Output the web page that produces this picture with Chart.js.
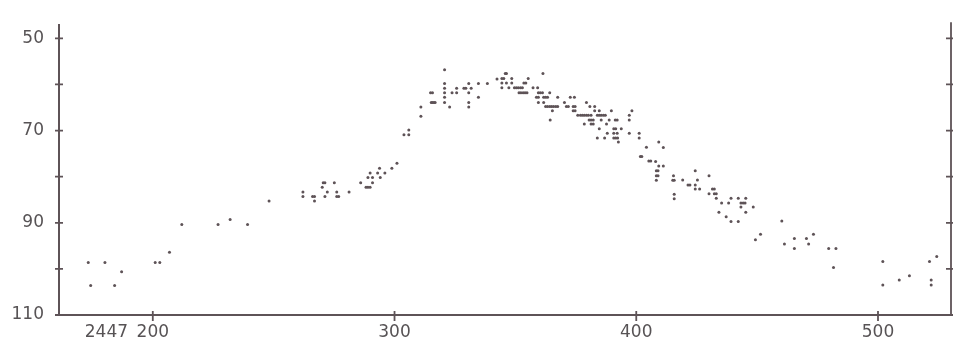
<!DOCTYPE html>
<html>
<head>
<meta charset="utf-8">
<script src="https://cdn.jsdelivr.net/npm/chart.js@4.4.1/dist/chart.umd.min.js"></script>
<style>
  html, body { margin: 0; padding: 0; background: #fff; }
</style>
</head>
<body>
<canvas id="chart" width="955" height="346"></canvas>
<script>

// light curve: julian date (minus 2447000) and magnitude (x10)
const jd = [
  173.3, 174.3, 180.2, 184.2, 187.1, 201.0, 202.9, 206.9, 212.0, 227.0,
  232.0, 239.2, 248.1, 262.1, 262.1, 266.1, 266.9, 266.9, 270.1, 270.5,
  271.2, 271.2, 272.2, 275.1, 276.1, 276.1, 276.9, 281.2,
  286.0, 288.2, 289.0, 289.9, 289.0, 289.9, 290.9, 290.9, 293.0, 293.8,
  294.1, 296.0, 298.9, 301.0, 303.9, 305.9, 305.9,
  310.9, 310.9, 315.2, 315.7, 316.3, 316.8, 314.9, 315.7, 320.7, 320.7,
  320.7, 320.7, 320.7, 320.7, 322.8, 323.8, 325.7, 325.7, 328.7, 329.5,
  330.7, 330.7, 330.7, 330.7, 331.7, 334.7, 334.7, 338.4, 342.4,
  344.4, 345.2, 345.8, 346.3, 344.4, 346.3, 348.5, 344.4, 347.3, 348.5,
  349.6, 350.4, 351.2, 352.1, 352.9, 351.5, 352.3, 353.2, 354.0, 354.8,
  353.5, 354.3, 355.3, 357.3, 359.2, 361.4, 359.5, 360.3, 361.2, 358.7,
  359.5, 361.7, 362.5, 363.3, 364.2, 359.5, 361.7, 362.5, 363.3, 364.2,
  365.0, 365.8, 366.7, 367.5, 367.5, 365.3, 364.4, 370.3, 371.1, 371.9,
  372.7, 374.4, 373.9, 374.7, 373.9, 374.7, 375.8, 376.9, 377.7, 378.5,
  379.4, 380.2, 381.3, 379.4, 380.8, 378.5, 380.5, 381.3, 382.2, 381.3,
  382.2, 382.8, 382.8, 383.9, 384.7, 385.5, 386.4, 387.2, 384.7, 385.5,
  387.7, 384.7, 383.9, 386.9, 388.0, 389.7, 388.8, 391.3, 392.1, 390.7,
  391.5, 393.8, 390.7, 390.7, 391.5, 392.3, 392.1, 392.6, 397.1, 397.1,
  397.1, 398.2, 401.2, 401.2, 404.2, 401.7, 402.3, 405.2, 406.0, 409.3,
  408.0, 409.3, 411.2, 408.3, 409.0, 408.3, 409.0, 408.3, 411.2, 415.4,
  415.1, 415.7, 415.7, 415.7, 419.2, 421.4, 422.2, 424.4, 425.3, 424.4,
  424.4, 426.2, 430.1, 431.5, 432.3, 430.1, 432.3, 433.1, 433.1, 435.3,
  434.2, 437.2, 438.2, 439.2, 439.2, 442.2, 442.2, 443.3, 444.2, 445.0,
  443.3, 445.3, 445.3, 448.4, 449.3, 451.4, 460.2, 461.3, 465.4, 465.4,
  470.4, 471.3, 473.3, 479.6, 482.6, 481.6, 502.0, 502.0, 508.8, 513.0,
  521.3, 524.3, 522.0, 522.0
]
const mag = [
  98.6, 103.6, 98.6, 103.6, 100.6, 98.6, 98.6, 96.4, 90.4, 90.4,
  89.3, 90.4, 85.3, 83.3, 84.3, 84.3, 84.3, 85.3, 82.3, 81.3,
  81.3, 84.3, 83.3, 81.3, 83.3, 84.3, 84.3, 83.3,
  81.3, 82.3, 82.3, 82.3, 80.2, 79.2, 80.2, 81.3, 79.2, 78.2,
  80.2, 79.2, 78.2, 77.1, 70.9, 70.9, 69.9,
  66.9, 64.9, 63.9, 63.9, 63.9, 63.9, 61.8, 61.8, 56.8, 59.8,
  60.8, 61.8, 62.8, 63.9, 64.9, 61.8, 60.8, 61.8, 60.8, 60.8,
  59.8, 61.8, 63.9, 64.9, 60.8, 59.8, 62.8, 59.8, 58.8,
  58.7, 58.7, 57.6, 57.6, 59.7, 59.7, 58.7, 60.7, 60.7, 59.7,
  60.7, 60.7, 60.7, 60.7, 60.7, 61.8, 61.8, 61.8, 61.8, 61.8,
  59.7, 59.7, 58.7, 60.7, 60.7, 57.6, 61.8, 61.8, 61.8, 62.8,
  62.8, 62.8, 62.8, 62.8, 61.8, 63.9, 63.9, 64.8, 64.8, 64.8,
  64.8, 64.8, 64.8, 64.8, 62.8, 65.7, 67.7, 63.9, 64.8, 64.8,
  62.8, 62.8, 64.8, 64.8, 65.7, 65.7, 66.7, 66.7, 66.7, 66.7,
  66.7, 66.7, 66.7, 63.9, 64.8, 68.6, 67.7, 67.7, 67.7, 68.6,
  68.6, 64.8, 65.7, 66.7, 66.7, 66.7, 66.7, 66.7, 65.7, 67.7,
  68.6, 69.6, 71.6, 71.6, 70.6, 65.7, 67.7, 67.7, 67.7, 69.6,
  69.6, 69.6, 70.6, 71.6, 71.6, 71.6, 70.6, 72.5, 70.6, 66.7,
  67.7, 65.7, 70.6, 71.6, 73.6, 75.6, 75.6, 76.6, 76.6, 72.5,
  76.7, 77.7, 77.7, 78.7, 78.7, 79.8, 79.8, 80.8, 73.7, 79.8,
  80.8, 80.8, 83.8, 84.8, 80.7, 81.8, 81.8, 78.7, 80.7, 81.8,
  82.7, 82.7, 79.8, 82.7, 82.7, 83.7, 83.7, 83.7, 84.7, 85.7,
  87.7, 88.7, 85.7, 84.7, 89.7, 84.7, 89.7, 85.7, 85.7, 85.7,
  86.6, 84.7, 87.7, 86.6, 93.7, 92.5, 89.6, 94.6, 93.4, 95.6,
  93.4, 94.6, 92.5, 95.6, 95.6, 99.7, 98.4, 103.5, 102.4, 101.5,
  98.4, 97.3, 102.4, 103.5
]

// axis ticks
const xTicks = [200, 300, 400, 500]
const yTicks = [50, 60, 70, 80, 90, 100, 110]
const yLabelled = [50, 70, 90, 110]

const INK = '#5e5357'
const TEXT = '#575355'

// first x label: the "200" part sits under the tick, "2447" hangs to the left
// (trailing figure spaces balance the centred label)
function xLabel(v) {
  if (v === 200) return '2447\u2002200\u2007\u2007\u2007\u2007\u2002'
  return String(v)
}

// tick marks that cross the axes, plus the right hand frame line
const axisMarks = {
  id: 'axisMarks',
  afterDraw(chart) {
    const { ctx, chartArea: a, scales: { x, y } } = chart
    ctx.save()
    ctx.strokeStyle = INK
    ctx.lineWidth = 1.8
    ctx.beginPath()
    ctx.moveTo(a.right, a.top - 3)
    ctx.lineTo(a.right, a.bottom)
    for (const v of yTicks) {
      const py = y.getPixelForValue(v)
      ctx.moveTo(a.left - 4, py)
      ctx.lineTo(a.left + 4, py)
      ctx.moveTo(a.right - 5, py)
      ctx.lineTo(a.right + 2, py)
    }
    for (const v of xTicks) {
      const px = x.getPixelForValue(v)
      ctx.moveTo(px, a.bottom - 4)
      ctx.lineTo(px, a.bottom + 6)
    }
    ctx.stroke()
    ctx.restore()
  }
}

const chart = new Chart(document.getElementById('chart'), {
  type: 'scatter',
  data: {
    datasets: [{
      data: jd.map((d, i) => ({ x: d, y: mag[i] })),
      pointRadius: 1.5,
      pointBorderWidth: 0,
      pointBackgroundColor: INK
    }]
  },
  options: {
    responsive: false,
    animation: false,
    layout: { padding: { top: 13, right: 3, left: 0, bottom: 0 } },
    plugins: { legend: { display: false }, tooltip: { enabled: false } },
    scales: {
      x: {
        type: 'linear',
        min: 161.2,
        max: 530.2,
        afterBuildTicks: s => { s.ticks = xTicks.map(v => ({ value: v })) },
        afterFit: s => { s.height = 31 },
        grid: { display: false, drawTicks: false },
        border: { display: true, color: INK, width: 2 },
        ticks: {
          autoSkip: false,
          maxRotation: 0,
          padding: 7,
          color: TEXT,
          font: { family: 'DejaVu Sans', size: 17 },
          callback: xLabel
        }
      },
      y: {
        reverse: true,
        min: 47.15,
        max: 110,
        afterBuildTicks: s => { s.ticks = yTicks.map(v => ({ value: v })) },
        afterFit: s => { s.width = 59 },
        grid: { display: false, drawTicks: false },
        border: { display: true, color: INK, width: 2 },
        ticks: {
          padding: 15,
          color: TEXT,
          font: { family: 'DejaVu Sans', size: 17 },
          callback: v => yLabelled.includes(v) ? String(v) : ''
        }
      }
    }
  },
  plugins: [axisMarks]
})
</script>
</body>
</html>
